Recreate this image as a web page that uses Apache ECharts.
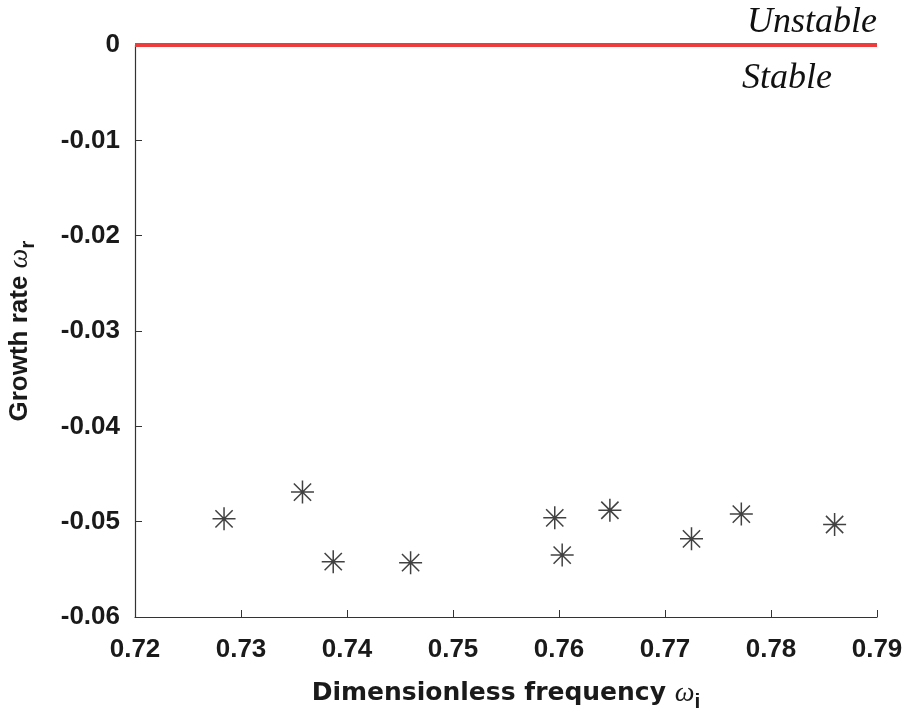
<!DOCTYPE html>
<html><head><meta charset="utf-8">
<script src="https://cdn.jsdelivr.net/npm/echarts@6/dist/echarts.min.js"></script>
<style>html,body{margin:0;padding:0;background:#fff}#c{width:910px;height:714px}</style>
</head><body><div id="c"></div>
<script>
var freq = [0.7284, 0.7358, 0.7387, 0.7460, 0.7596, 0.7603, 0.7648, 0.7725, 0.7772, 0.7860];
var growth = [-0.0497, -0.0469, -0.0542, -0.0543, -0.0496, -0.0535, -0.0488, -0.0518, -0.0492, -0.0503];
var boundaryX = [0.72, 0.79];
var boundaryY = [0, 0];
var xTicks = [0.72, 0.73, 0.74, 0.75, 0.76, 0.77, 0.78, 0.79];
var yTicks = [-0.06, -0.05, -0.04, -0.03, -0.02, -0.01, 0];

var pts = freq.map(function(v,i){return [v, growth[i]];});
var line = boundaryX.map(function(v,i){return [v, boundaryY[i]];});
var chart = echarts.init(document.getElementById('c'));
var axisFont = {fontFamily:'Liberation Sans', fontWeight:'bold', fontSize:26, color:'#1a1a1a'};
var richX = {
  a:{fontFamily:'DejaVu Sans', fontWeight:'bold', fontSize:25, color:'#1a1a1a'},
  w:{fontFamily:'Liberation Serif', fontStyle:'italic', fontSize:28, color:'#1a1a1a'},
  s:{fontFamily:'Liberation Sans', fontWeight:'bold', fontSize:21, color:'#1a1a1a', padding:[18,0,0,0]}
};
var richY = {
  a:{fontFamily:'Liberation Sans', fontWeight:'bold', fontSize:26, color:'#1a1a1a'},
  w:{fontFamily:'Liberation Serif', fontStyle:'italic', fontSize:28, color:'#1a1a1a'},
  s:{fontFamily:'Liberation Sans', fontWeight:'bold', fontSize:21, color:'#1a1a1a', padding:[18,0,0,0]}
};
chart.setOption({
  animation:false,
  grid:{left:135, right:33, top:45, bottom:97, outerBoundsMode:'none', containLabel:false},
  xAxis:{type:'value', min:0.72, max:0.79, interval:0.01,
    axisLine:{show:true, onZero:false, lineStyle:{color:'#333', width:1.2}},
    axisTick:{show:true, inside:true, length:7, lineStyle:{color:'#333'}},
    splitLine:{show:false},
    axisLabel:Object.assign({margin:20, formatter:function(v){return v.toFixed(2);}}, axisFont),
    name:'{a|Dimensionless frequency }{w|ω}{s|i}', nameLocation:'middle', nameGap:57,
    nameTextStyle:{rich:richX}
  },
  yAxis:{type:'value', min:-0.06, max:0, interval:0.01,
    axisLine:{show:true, onZero:false, lineStyle:{color:'#333', width:1.2}},
    axisTick:{show:true, inside:true, length:7, lineStyle:{color:'#333'}},
    splitLine:{show:false},
    axisLabel:Object.assign({margin:15, formatter:function(v){return v===0?'0':String(+v.toFixed(2));}}, axisFont),
    name:'{a|Growth rate }{w|ω}{s|r}', nameLocation:'middle', nameGap:96, nameRotate:90,
    nameTextStyle:{rich:richY}
  },
  series:[
    {type:'line', data:line, symbol:'none', lineStyle:{color:'#ee3b3b', width:4}, z:3},
    {type:'scatter', data:pts, symbol:'path://M0,-10L0,10M-10,0L10,0M-7.5,-7.5L7.5,7.5M-7.5,7.5L7.5,-7.5',
     symbolSize:23, itemStyle:{color:'none', borderColor:'#111', borderWidth:1.5}, z:4}
  ],
  graphic:[
    {type:'text', right:33, top:5, style:{text:'Unstable', font:'italic 36px "Liberation Serif"', fill:'#111'}},
    {type:'text', left:742, top:61, style:{text:'Stable', font:'italic 36px "Liberation Serif"', fill:'#111'}}
  ]
});
</script></body></html>
